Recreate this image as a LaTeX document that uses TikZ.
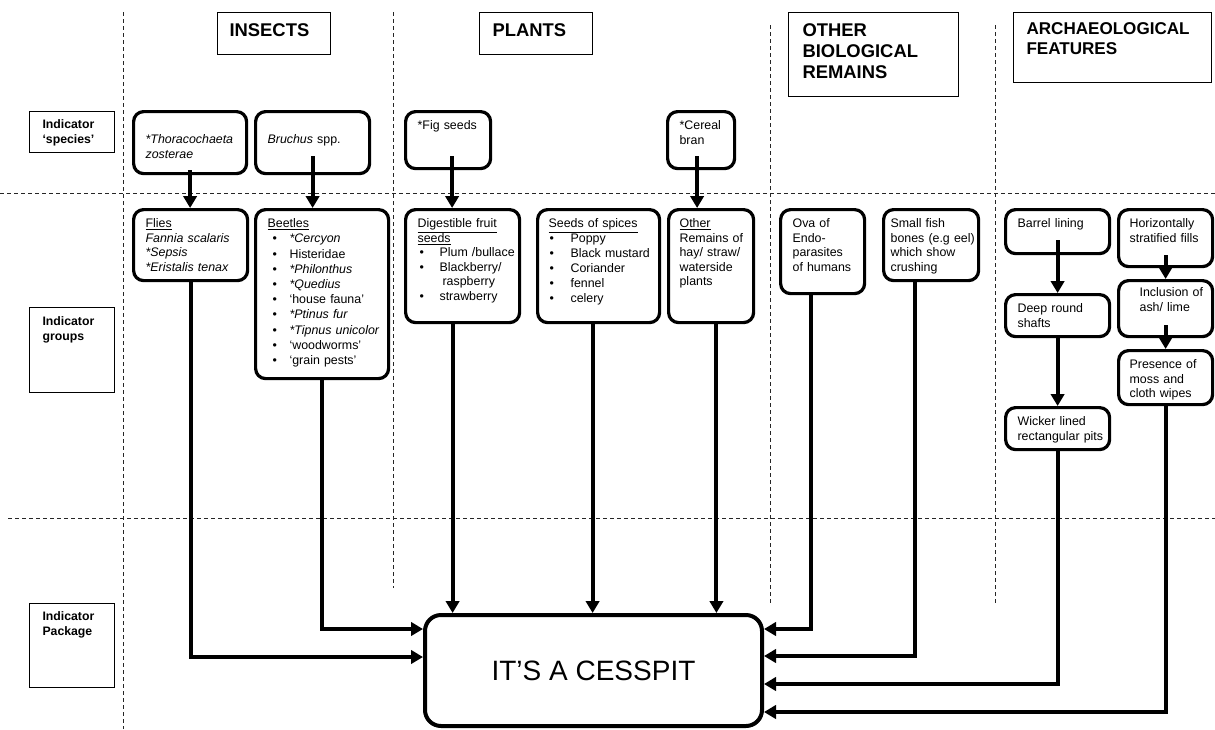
\documentclass[tikz,border=0pt]{standalone}
\usepackage{fontspec}
\setmainfont{Liberation Sans}
\usetikzlibrary{arrows.meta,positioning}

\newcommand{\itm}[1][1.5pt]{\makebox[16.5pt][l]{\hspace*{#1}\textbullet}}

\tikzset{
  divider/.style={line width=0.75pt, black!85, dash pattern=on 3pt off 2.25pt},
  hdr/.style={draw, line width=0.8pt, anchor=north west, align=left, inner xsep=9pt, inner ysep=6pt, font=\bfseries\fontsize{13.8}{15.75}\selectfont},
  lbl/.style={draw, line width=0.8pt, anchor=north west, align=left, inner xsep=9.75pt, inner ysep=4.5pt, text width=44.25pt, font=\bfseries\fontsize{9.2}{10.9}\selectfont},
  rbox/.style={draw, line width=2.4pt, rounded corners=7.5pt, anchor=north west, align=left, inner xsep=9pt, inner ysep=4.5pt, text height=9pt, font=\fontsize{9.3}{10.9}\selectfont},
  arr/.style={line width=3pt, -{Triangle[width=10pt,length=9pt]}}
}

\begin{document}
\begin{tikzpicture}[x=0.75pt,y=-0.75pt]
\useasboundingbox (0,0) rectangle (1215,729);

\draw[divider] (0,193) -- (1215,193);
\draw[divider] (8,518) -- (1215,518);
\draw[divider] (123,12) -- (123,729);
\draw[divider] (393,12) -- (393,588);
\draw[divider] (770,25) -- (770,603);
\draw[divider] (995,25) -- (995,603);

% column headers
\node[hdr, text width=66.75pt, text height=12pt, text depth=7.5pt] (insects) at (217,12) {INSECTS};
\node[hdr, inner xsep=9.75pt, text width=65.25pt, text height=12pt, text depth=7.5pt] (plants) at (479,12) {PLANTS};
\node[hdr, inner xsep=10.5pt, text width=106.5pt, text height=12pt, text depth=39pt] (otherbio) at (788,12) {OTHER\\BIOLOGICAL\\REMAINS};
\node[hdr, inner xsep=9.75pt, text width=129pt, text height=10.5pt, text depth=30pt, font=\bfseries\fontsize{12.8}{15}\selectfont] (archfeat) at (1013,12) {ARCHAEOLOGICAL\\FEATURES};

% row labels
\node[lbl, text height=8.25pt, text depth=13.5pt] (lblspecies) at (29,111) {Indicator\\‘species’};
\node[lbl, text height=9pt, text depth=45.75pt] (lblgroups) at (29,307) {Indicator\\groups};
\node[lbl, text height=8.25pt, text depth=45.75pt] (lblpackage) at (29,603) {Indicator\\Package};

% indicator species
\node[rbox, text width=66.75pt, text height=19.5pt, text depth=18pt] (thor) at (132,110) {\itshape \mbox{*Thoracochaeta}\\zosterae};
\node[rbox, text width=67.5pt, text height=19.5pt, text depth=18pt] (bruchus) at (254,110) {\mbox{\textit{Bruchus} spp.}};
\node[rbox, text width=45.75pt, text depth=24.75pt] (fig) at (404,110) {\mbox{*Fig seeds}};
\node[rbox, text width=32.25pt, text depth=24.75pt] (cereal) at (666,110) {*Cereal\\bran};

% indicator groups
\node[rbox, text width=67.5pt, text depth=35.25pt] (flies) at (132,208) {\underline{Flies}\\\mbox{\textit{Fannia scalaris}}\\\textit{*Sepsis}\\\mbox{\textit{*Eristalis tenax}}};
\node[rbox, text width=81.75pt, text depth=108.75pt, font=\fontsize{9.3}{11.4}\selectfont] (beetles) at (254,208) {\underline{Beetles}\\
  \itm[3.75pt]\textit{*Cercyon}\\
  \itm[3.75pt]Histeridae\\
  \itm[3.75pt]\textit{*Philonthus}\\
  \itm[3.75pt]\textit{*Quedius}\\
  \itm[3.75pt]\mbox{‘house fauna’}\\
  \itm[3.75pt]\mbox{\textit{*Ptinus fur}}\\
  \itm[3.75pt]\mbox{\textit{*Tipnus unicolor}}\\
  \itm[3.75pt]‘woodworms’\\
  \itm[3.75pt]\mbox{‘grain pests’}};
\node[rbox, text width=67.5pt, text depth=66.75pt] (digest) at (404,208) {\underline{Digestible fruit}\\\underline{seeds}\\
  \itm\mbox{Plum /bullace}\\
  \itm\mbox{Blackberry/}\\
  \hspace*{18.75pt}raspberry\\
  \itm strawberry};
\node[rbox, inner xsep=8.25pt, text width=75pt, text depth=66.75pt, font=\fontsize{9.3}{11.25}\selectfont] (spices) at (536,208) {\underline{Seeds of spices}\\
  \itm[0.75pt]Poppy\\
  \itm[0.75pt]\mbox{Black mustard}\\
  \itm[0.75pt]Coriander\\
  \itm[0.75pt]fennel\\
  \itm[0.75pt]celery};
\node[rbox, inner xsep=8.25pt, text width=47.25pt, text depth=66.75pt] (other) at (667,208) {\underline{Other}\\\mbox{Remains of}\\\mbox{hay/ straw/}\\waterside\\plants};
\node[rbox, text width=45pt, text depth=45pt] (ova) at (779,208) {\mbox{Ova of}\\Endo-\\parasites\\\mbox{of humans}};
\node[rbox, inner xsep=5.25pt, text width=60.75pt, text depth=35.25pt] (fish) at (882,208) {\mbox{Small fish}\\\mbox{bones (e.g eel)}\\\mbox{which show}\\crushing};
\node[rbox, text width=60pt, text depth=15pt] (barrel) at (1004,208) {\mbox{Barrel lining}};
\node[rbox, text width=60pt, text depth=13.5pt] (deep) at (1004,293) {\mbox{Deep round}\\shafts};
\node[rbox, text width=60pt, text depth=13.5pt] (wicker) at (1004,406) {\mbox{Wicker lined}\\\mbox{rectangular pits}};
\node[rbox, inner xsep=8.25pt, text width=54pt, text depth=24.75pt] (horiz) at (1117,208) {Horizontally\\\mbox{stratified fills}};
\node[rbox, inner xsep=15.75pt, text width=39pt, text height=7.5pt, text depth=25.5pt] (incl) at (1117,279) {\mbox{Inclusion of}\\\mbox{ash/ lime}};
\node[rbox, inner xsep=8.25pt, text width=54pt, text depth=22.5pt] (presence) at (1117,349) {\mbox{Presence of}\\\mbox{moss and}\\\mbox{cloth wipes}};

% indicator package
\node[draw, line width=3pt, rounded corners=12pt, minimum width=252.75pt, minimum height=83.25pt, font=\fontsize{21}{25}\selectfont] (cesspit) at (593.5,670.5) {IT’S A CESSPIT};

\draw[arr] ([yshift=3.75pt]thor.south) -- (thor.south |- flies.north);
\draw[arr] ([yshift=14.25pt]bruchus.south) -- (bruchus.south |- beetles.north);
\draw[arr] ([xshift=3pt,yshift=10.5pt]fig.south) -- ([xshift=3pt]fig.south |- digest.north);
\draw[arr] ([xshift=-3pt,yshift=10.5pt]cereal.south) -- ([xshift=-3pt]cereal.south |- other.north);

\draw[arr] ([yshift=11.25pt]barrel.south) -- (deep.north);
\draw[arr] (deep.south) -- (wicker.north);
\draw[arr] ([yshift=9.75pt]horiz.south) -- (incl.north);
\draw[arr] ([yshift=9.75pt]incl.south) -- (presence.north);

\draw[arr] (flies.south) |- ([yshift=-33pt]cesspit.north west);
\draw[arr] (beetles.south) |- ([yshift=-12pt]cesspit.north west);
\draw[arr] ([xshift=-7.5pt]digest.south) -- ([xshift=-7.5pt]digest.south |- cesspit.north);
\draw[arr] ([xshift=-4.5pt]spices.south) -- ([xshift=-4.5pt]spices.south |- cesspit.north);
\draw[arr] ([xshift=4pt]other.south) -- ([xshift=4pt]other.south |- cesspit.north);
\draw[arr] ([xshift=-9pt]ova.south) |- ([yshift=-12pt]cesspit.north east);
\draw[arr] ([xshift=-12pt]fish.south) |- ([yshift=-32.25pt]cesspit.north east);
\draw[arr] (wicker.south) |- ([yshift=-53.25pt]cesspit.north east);
\draw[arr] (presence.south) |- ([yshift=-74.25pt]cesspit.north east);
\end{tikzpicture}
\end{document}
